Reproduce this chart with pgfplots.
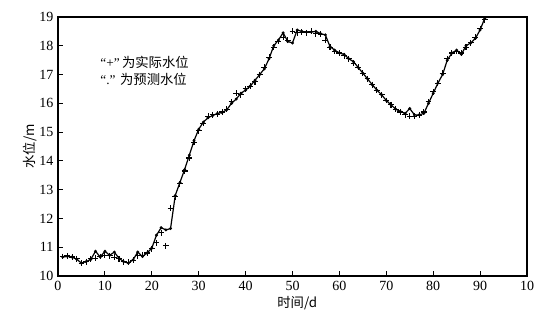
\documentclass[border=0pt]{standalone}
\usepackage{fontspec}
\setmainfont{Liberation Serif}
\newfontfamily\cjk{Noto Sans CJK SC}
\usepackage{pgfplots}
\pgfplotsset{compat=1.18}
\begin{document}
\begin{tikzpicture}
\path[use as bounding box] (-43.5pt,-32.25pt) rectangle (369pt,207pt);
\begin{axis}[
  scale only axis,
  width=351.75pt, height=194.25pt,
  xmin=0, xmax=100, ymin=10, ymax=19,
  xtick={0,10,...,100},
  xticklabels={0,10,20,30,40,50,60,70,80,90,10},
  ytick={10,11,...,19},
  tick align=inside,
  tick pos=left,
  major tick length=4pt,
  axis line style={line width=1pt},
  every tick/.style={line width=0.8pt, black},
  /pgf/number format/assume math mode=true,
  ticklabel style={font=\fontsize{10.5}{12}\selectfont},
  xlabel={\cjk 时间/d},
  ylabel={\cjk 水位/m},
  every axis x label/.style={at={(axis description cs:0.51,-0.105)}, anchor=center, font=\fontsize{10}{12}\selectfont},
  every axis y label/.style={at={(axis description cs:-0.06,0.5)}, rotate=90, anchor=center, font=\fontsize{10}{12}\selectfont},
  clip=false,
]
\addplot[black, line width=0.9pt, mark=*, mark size=0.6pt] coordinates {
(1,10.66)(2,10.68)(3,10.66)(4,10.58)(5,10.45)(6,10.5)(7,10.58)(8,10.86)(9,10.66)(10,10.86)
(11,10.72)(12,10.83)(13,10.62)(14,10.5)(15,10.45)(16,10.56)(17,10.83)(18,10.68)(19,10.8)(20,10.97)
(21,11.42)(22,11.68)(23,11.6)(24,11.65)(25,12.8)(26,13.25)(27,13.7)(28,14.2)(29,14.7)(30,15.1)
(31,15.35)(32,15.5)(33,15.58)(34,15.65)(35,15.68)(36,15.78)(37,16.0)(38,16.15)(39,16.35)(40,16.46)
(41,16.6)(42,16.8)(43,17.0)(44,17.2)(45,17.55)(46,18.0)(47,18.2)(48,18.45)(49,18.15)(50,18.1)
(51,18.55)(52,18.5)(53,18.48)(54,18.48)(55,18.5)(56,18.42)(57,18.38)(58,17.97)(59,17.85)(60,17.75)
(61,17.7)(62,17.55)(63,17.45)(64,17.25)(65,17.05)(66,16.85)(67,16.65)(68,16.46)(69,16.3)(70,16.1)
(71,15.95)(72,15.8)(73,15.72)(74,15.65)(75,15.82)(76,15.6)(77,15.6)(78,15.65)(79,16.0)(80,16.35)
(81,16.7)(82,17.0)(83,17.5)(84,17.75)(85,17.85)(86,17.7)(87,18.0)(88,18.1)(89,18.26)(90,18.55)
(91,18.96)
};
\addplot[only marks, black, mark=+, mark size=2.2pt, mark options={line width=0.8pt}] coordinates {
(1,10.68)(2,10.7)(3,10.66)(4,10.6)(5,10.45)(6,10.5)(7,10.6)(8,10.62)(9,10.68)(10,10.72)
(11,10.7)(12,10.65)(13,10.6)(14,10.5)(15,10.48)(16,10.55)(17,10.7)(18,10.72)(19,10.8)(20,10.95)
(21,11.15)(22,11.5)(23,11.05)(24,12.35)(25,12.75)(26,13.2)(27,13.65)(28,14.1)(29,14.65)(30,15.05)
(31,15.3)(32,15.55)(33,15.6)(34,15.62)(35,15.7)(36,15.8)(37,16.05)(38,16.35)(39,16.3)(40,16.5)
(41,16.6)(42,16.75)(43,17.0)(44,17.25)(45,17.6)(46,17.95)(47,18.15)(48,18.3)(49,18.2)(50,18.5)
(51,18.45)(52,18.47)(53,18.45)(54,18.5)(55,18.42)(56,18.4)(57,18.2)(58,17.95)(59,17.8)(60,17.75)
(61,17.65)(62,17.55)(63,17.4)(64,17.25)(65,17.05)(66,16.85)(67,16.65)(68,16.45)(69,16.3)(70,16.1)
(71,15.95)(72,15.8)(73,15.7)(74,15.6)(75,15.55)(76,15.55)(77,15.58)(78,15.7)(79,16.05)(80,16.4)
(81,16.7)(82,17.05)(83,17.55)(84,17.75)(85,17.8)(86,17.75)(87,17.95)(88,18.1)(89,18.3)(90,18.6)
(91,18.9)
};
\node[anchor=west, inner sep=0pt, font=\fontsize{10}{12}\selectfont] at (axis cs:9.0,17.43) {“+”\,{\cjk 为实际水位}};
\node[anchor=west, inner sep=0pt, font=\fontsize{10}{12}\selectfont] at (axis cs:9.0,16.82) {“.”\,\,{\cjk 为预测水位}};
\end{axis}
\end{tikzpicture}
\end{document}
